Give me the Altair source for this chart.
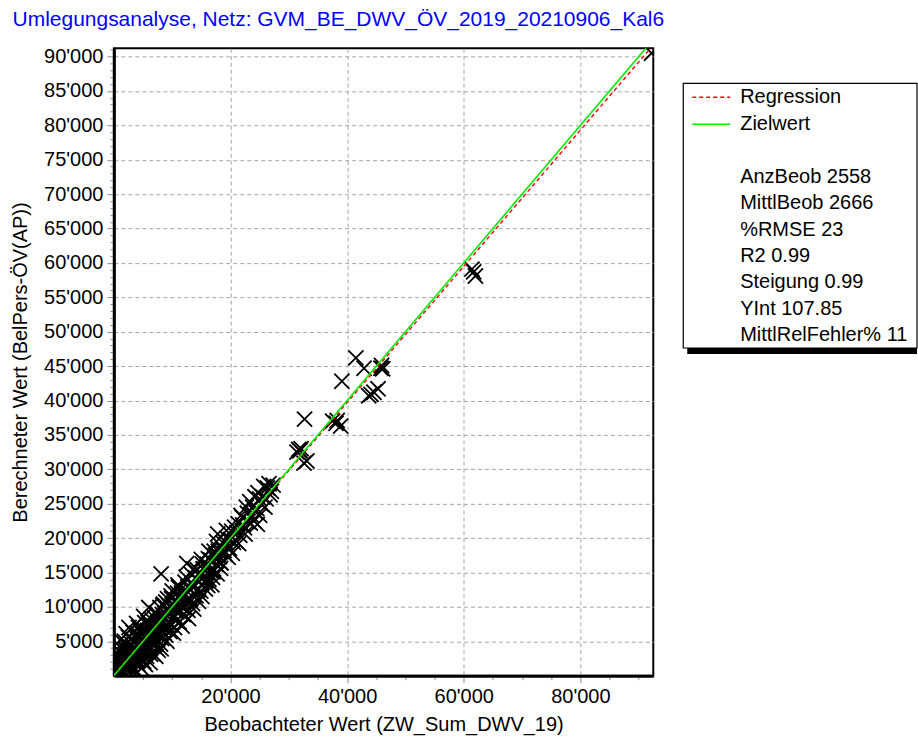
import altair as alt
import pandas as pd

# ---------------- data ----------------
# dense core near the origin
obs_core = [150, 300, 250, 600, 700, 500, 900, 1100, 1200, 1300, 1600, 1700, 1800, 2000, 2100, 2300, 2500, 2600,
            2800, 3000, 3000, 3300, 3400, 3600, 3700, 3900, 4100, 4200, 4300, 4500, 4700, 4800, 5000, 5100, 5300,
            5400, 5600, 5800, 6000, 6000, 6200, 6400, 6500, 6700, 6900, 7100, 7300, 7400, 7600, 7900, 8100, 8100,
            8200, 8400, 8500, 8800, 8900, 9200, 9400, 9600, 9800, 10000, 10100, 10400, 10600, 10800, 11000, 11200,
            11400, 11600, 11900, 12200,
            400, 800, 1000, 1400, 1500, 1900, 2200, 2400, 2700, 2900, 3100, 3200, 3500, 3500, 3800, 4000, 4100,
            4400, 4600, 4900, 5200, 5400, 5500, 5700, 6100, 6300, 6600, 6800, 7000, 7200, 7500, 7700, 8000, 8300,
            8600, 8900, 9100, 9300, 9700, 9900, 10200, 10300, 10700, 10900, 11300, 11500, 11700, 12000,
            200, 600, 1100, 1700, 2100, 2600, 3300, 3900, 4700, 5100, 5900, 6400, 7300, 7900, 8700, 9500, 10500, 11100]
calc_core = [100, 900, 2000, 300, 1500, 3300, 2600, 700, 4100, 1800, 3000, 300, 5000, 1200, 3900, 2200, 5600, 500,
             3200, 1600, 4600, 6300, 2500, 900, 3800, 5400, 1700, 7000, 2900, 4500, 1100, 6100, 3500, 2100, 7700,
             5000, 2800, 6600, 9900, 4100, 1900, 8200, 5600, 3200, 7200, 4600, 9100, 6000, 3700, 8000, 14800, 3900,
             5400, 10200, 7000, 9000, 5900, 11200, 7800, 6400, 10000, 12300, 8400, 7000, 11000, 9300, 13200, 7800,
             10200, 12000, 8900, 13600,
             1300, 600, 3500, 2400, 700, 4500, 3000, 1400, 4200, 2700, 5400, 1000, 3100, 4800, 2100, 6200, 3600,
             5600, 2400, 4000, 6700, 1600, 3700, 5400, 7300, 3100, 6400, 4300, 8400, 2800, 5200, 7000, 4600, 8900,
             6200, 10700, 5000, 9200, 7400, 11200, 6200, 9600, 8000, 12000, 9300, 11200, 7200, 10500,
             2700, 2100, 5200, 3600, 6100, 7000, 2000, 7600, 5200, 8600, 7800, 5000, 6300, 9900, 8200, 10100, 9900, 12800]

# extra links filling the dense diagonal up to about 19'000
obs_fill = [500, 1000, 1600, 2300, 2900, 3600, 4300, 4900, 5600, 6200, 6900, 7500, 8200, 8800, 9500, 10100, 10800,
            11400, 12100, 12700, 13400, 14000, 14700, 15300, 16000, 16600, 17300, 17900, 18600, 19200,
            800, 1400, 2000, 2700, 3300, 4000, 4600, 5300, 5900, 6600, 7200, 7900, 8500, 9200, 9800, 10500, 11100,
            11800, 12400, 13100, 13700, 14400, 15000, 15700, 16300, 17000, 17600, 18300]
calc_fill = [700, 900, 1400, 2500, 2700, 3800, 4100, 5100, 5400, 6400, 6700, 7700, 8000, 9000, 9300, 10300, 10600,
             11600, 11900, 12900, 13200, 14200, 14500, 15500, 15800, 16800, 17100, 18100, 18400, 19400,
             2600, 300, 3800, 1000, 5000, 2300, 6400, 3400, 7700, 4700, 9000, 6000, 10400, 7300, 11600, 8600, 12900,
             9900, 14300, 11200, 15500, 12500, 16900, 13800, 18100, 15100, 19500, 16400]

# band from about 12'000 to 27'000
obs_band = [12500, 12500, 12700, 13000, 13300, 13500, 13800, 14100, 14300, 14600, 14900, 15200, 15500, 15800, 16100,
            16200, 16500, 16900, 17200, 17500, 17800, 18100, 18300, 18700, 19000, 19400, 19800, 20200, 20500, 20900,
            21300, 21600, 22000, 22400, 22700, 23000, 23300, 23600, 24000, 24200, 24500, 24700, 25000, 25300, 25700,
            26100, 26600, 27000,
            12400, 12800, 13100, 13400, 13700, 14000, 14200, 14500, 14800, 15100, 15400, 15700, 16000, 16300, 16600,
            16800, 17100, 17400, 17700, 18000, 18400, 18900, 19300, 19600, 20000, 20300, 20700, 21100, 21400, 21800,
            22100, 22500, 22900, 23400, 23800, 24300, 24600, 25000, 25500, 25900, 26300, 26800, 27300]
calc_band = [16300, 11000, 9500, 12600, 14700, 10500, 13000, 11600, 15400, 13700, 12300, 16200, 14400, 13800, 13100,
             17000, 15300, 14300, 18100, 16200, 20600, 17300, 15600, 19300, 17700, 20000, 18500, 21000, 19400, 19600,
             22100, 20400, 23000, 21500, 24500, 22400, 25300, 23300, 22500, 26000, 24300, 26600, 23300, 24900, 27500,
             25700, 27900, 26800,
             12400, 8300, 11100, 13400, 9700, 14200, 12300, 10800, 14500, 11500, 15500, 12600, 16200, 14000, 16800,
             13200, 15500, 17500, 14800, 18400, 16400, 18200, 21100, 17200, 19800, 17800, 21600, 20800, 19200, 23300,
             21900, 20600, 23600, 22200, 24500, 23800, 22000, 25700, 26000, 24500, 27300, 26300, 27700]

# isolated high-volume links
obs_out = [31400, 31700, 31900, 32100, 32600, 33100, 32700, 37500, 38100, 38900, 38300, 39100, 41500, 42900, 45800,
           46100, 45900, 45300, 44100, 44600, 43700, 61400, 62000, 61700, 92200]
calc_out = [32500, 32900, 32700, 33000, 30900, 31200, 37300, 37000, 36700, 36300, 37100, 42800, 46200, 44700, 44700,
            44600, 45100, 41700, 40900, 41200, 40700, 59100, 58100, 58700, 90500]

x_domain = [0, 92500]
y_domain = [0, 91200]
x_major = 20000
x_minor = 5000
y_major = 5000
y_minor = 1000

slope = 0.99
intercept = 107.85

legend_lines = ["Regression", "Zielwert"]
stat_names = ["AnzBeob", "MittlBeob", "%RMSE", "R2", "Steigung", "YInt", "MittlRelFehler%"]
stat_values = ["2558", "2666", "23", "0.99", "0.99", "107.85", "11"]

title_text = "Umlegungsanalyse, Netz: GVM_BE_DWV_ÖV_2019_20210906_Kal6"
x_title = "Beobachteter Wert (ZW_Sum_DWV_19)"
y_title = "Berechneter Wert (BelPers-ÖV(AP))"

FONT = "Liberation Sans, Arial, Helvetica, sans-serif"

# ---------------- chart ----------------
df = pd.DataFrame({
    "obs": obs_core + obs_fill + obs_band + obs_out,
    "calc": calc_core + calc_fill + calc_band + calc_out,
})
line_df = pd.DataFrame({"obs": x_domain})

W, H = 540, 628

fmt = "replace(format(datum.value, ','), ',', \"'\")"

def axis(step_minor, major, max_val, title, title_pad):
    vals = list(range(step_minor, max_val + 1, step_minor))
    test = f"datum.value % {major} === 0"
    return alt.Axis(
        values=vals,
        title=title,
        labelExpr=f"{test} ? {fmt} : ''",
        labelOverlap=False,
        labelFlush=False,
        labelFont=FONT, labelFontSize=20, labelColor="black",
        titleFont=FONT, titleFontSize=20, titleFontWeight="normal", titleColor="black",
        tickSize={"condition": {"test": test, "value": 7}, "value": 4},
        tickColor="#8c8c8c", tickWidth=1,
        grid=True,
        gridOpacity={"condition": {"test": test, "value": 1}, "value": 0},
        gridColor="#a6a6a6", gridDash=[4, 3], gridWidth=1,
        domainColor="black", domainWidth=3,
        labelPadding=4,
        titlePadding=title_pad,
    )

xs = alt.Scale(domain=x_domain, nice=False, zero=False)
ys = alt.Scale(domain=y_domain, nice=False, zero=False)

xax = axis(x_minor, x_major, x_domain[1], x_title, 8)
yax = axis(y_minor, y_major, y_domain[1], y_title, 13)

cross = "M-1,-1L1,1M-1,1L1,-1"

points = alt.Chart(df).mark_point(
    shape=cross, size=230, filled=False, color="black", strokeWidth=1.8, opacity=1, clip=True
).encode(
    x=alt.X("obs:Q", scale=xs, axis=xax),
    y=alt.Y("calc:Q", scale=ys, axis=yax),
)

reg = alt.Chart(line_df).transform_calculate(
    calc=f"{slope} * datum.obs + {intercept}"
).mark_line(color="#ff0000", strokeDash=[4, 3], strokeWidth=1.4, clip=True).encode(
    x=alt.X("obs:Q", scale=xs, axis=xax),
    y=alt.Y("calc:Q", scale=ys, axis=yax),
)

target = alt.Chart(line_df).transform_calculate(
    calc="datum.obs"
).mark_line(color="#00ee00", strokeWidth=1.6, clip=True).encode(
    x=alt.X("obs:Q", scale=xs, axis=xax),
    y=alt.Y("calc:Q", scale=ys, axis=yax),
)

one = pd.DataFrame({"k": [0]})

# legend box (positions relative to plot origin)
LX0, LX1, LY0, LY1 = 570, 804, 35, 300
shadow = alt.Chart(one).mark_rect(color="black").encode(
    x=alt.value(LX0 + 4), x2=alt.value(LX1), y=alt.value(LY0 + 5), y2=alt.value(LY1 + 6)
)
box = alt.Chart(one).mark_rect(fill="white", stroke="black", strokeWidth=1.2).encode(
    x=alt.value(LX0), x2=alt.value(LX1), y=alt.value(LY0), y2=alt.value(LY1)
)
leg_reg = alt.Chart(one).mark_rule(color="#ff0000", strokeDash=[4, 3], strokeWidth=1.4).encode(
    x=alt.value(579), x2=alt.value(617), y=alt.value(49)
)
leg_tgt = alt.Chart(one).mark_rule(color="#00ee00", strokeWidth=1.6).encode(
    x=alt.value(579), x2=alt.value(617), y=alt.value(76)
)

texts = []
rows = [(legend_lines[0], 49), (legend_lines[1], 76)]
for i, (n, v) in enumerate(zip(stat_names, stat_values)):
    rows.append((f"{n} {v}", 129 + i * 26.3))
for label, yy in rows:
    texts.append(
        alt.Chart(one).mark_text(
            text=label, align="left", baseline="middle", font=FONT, fontSize=20, color="black"
        ).encode(x=alt.value(627), y=alt.value(yy))
    )

chart = alt.layer(points, reg, target, shadow, box, leg_reg, leg_tgt, *texts).properties(
    width=W, height=H,
    background="white",
    title=alt.TitleParams(
        text=title_text, anchor="start", frame="bounds", font=FONT, fontSize=21,
        fontWeight="normal", color="#0000ff", offset=10, dx=2,
    ),
    padding={"left": 10, "top": 8, "right": 0, "bottom": 4},
).configure_view(stroke="black", strokeWidth=2)

chart.save("out.html", embed_options={"renderer": "svg", "actions": False})
